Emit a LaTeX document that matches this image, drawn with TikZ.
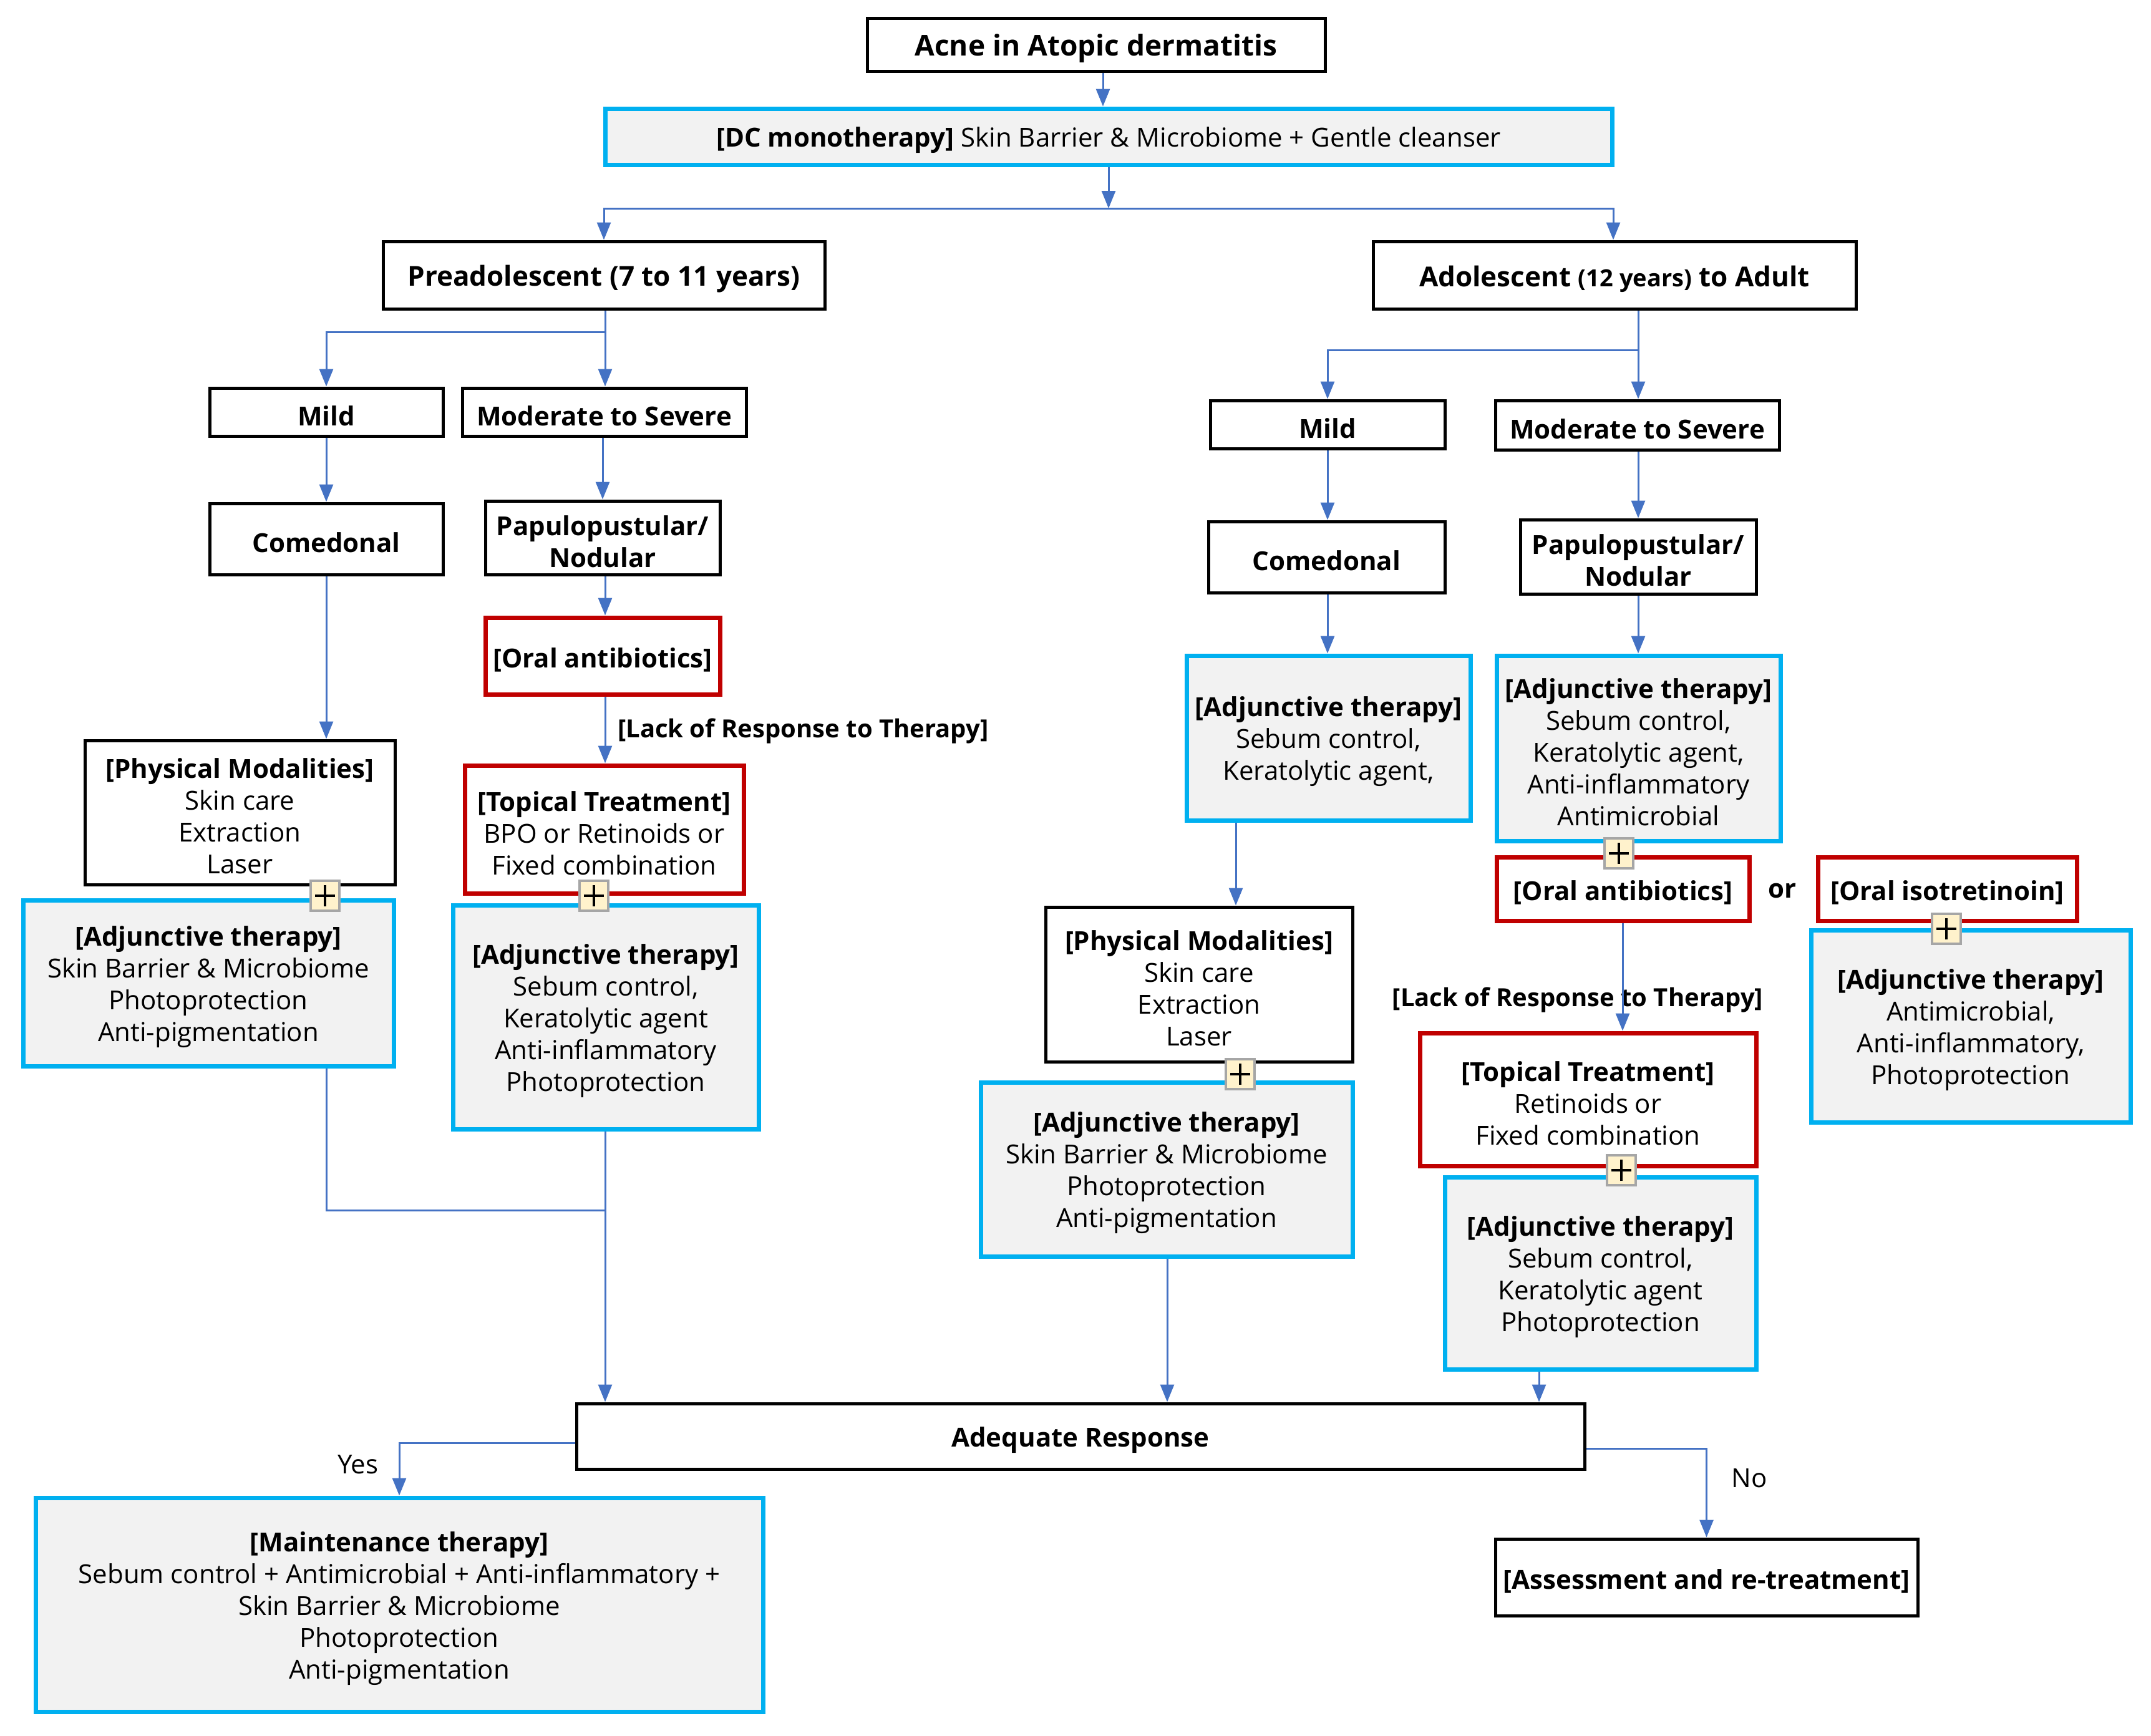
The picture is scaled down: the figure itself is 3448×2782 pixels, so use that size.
\documentclass[tikz,border=0pt]{standalone}
\usepackage{fontspec}
\setmainfont{Open Sans}
\usetikzlibrary{arrows.meta}
\definecolor{bluec}{HTML}{4472C4}
\definecolor{cyanc}{HTML}{00B0F0}
\definecolor{redc}{HTML}{C00000}
\definecolor{grayf}{HTML}{F2F2F2}
\definecolor{plusf}{HTML}{FFF2CC}
\definecolor{plusb}{HTML}{A6A6A6}
\newcommand\fsz[2]{\fontsize{#1}{#2}\selectfont}
\newcommand\mybox[7]{%
  \node[#1, minimum width={(#5)-(#3)}, minimum height={(#6)-(#4)}] (#2) at ({((#3)+(#5))/2},{((#4)+(#6))/2}) {};
  \node[#1, draw=none, fill=none, minimum width=0pt, minimum height=0pt] (#2-t) at ([yshift=-6pt]#2.center) {#7};}
\newcommand\myplus[3]{\node[plusbox] (#1) at (#2,#3) {};}
\tikzset{
 base/.style={rectangle, inner sep=0pt, align=center, font=\fsz{42}{51}},
 blk/.style={base, draw=black, line width=5pt, fill=white},
 cyb/.style={base, draw=cyanc, line width=7pt, fill=grayf},
 redb/.style={base, draw=redc, line width=7pt, fill=white},
 arr/.style={draw=bluec, line width=3pt, -{Triangle[width=22pt,length=28pt]}},
 ln/.style={draw=bluec, line width=3pt},
 lbl/.style={inner sep=0pt, font=\fsz{42}{51}},
 plusbox/.style={rectangle, draw=plusb, line width=4pt, fill=plusf, minimum width=46pt, minimum height=48pt, inner sep=0pt,
   path picture={\draw[black, line width=4.5pt] ([xshift=-16pt]path picture bounding box.center) -- ([xshift=16pt]path picture bounding box.center);
                 \draw[black, line width=4.5pt] ([yshift=-17pt]path picture bounding box.center) -- ([yshift=17pt]path picture bounding box.center);}}
}
\begin{document}
\begin{tikzpicture}[x=1pt,y=-1pt]
\useasboundingbox[fill=white] (0,0) rectangle (3448,2782);
% top
\mybox{blk,font=\fsz{46}{54}\bfseries}{title}{1390}{29}{2124}{114}{Acne in Atopic dermatitis}
\mybox{cyb}{dc}{970}{174}{2584}{264}{\textbf{[DC monotherapy]} Skin Barrier \& Microbiome + Gentle cleanser}
\mybox{blk,font=\fsz{44}{52}\bfseries}{pre}{614}{387}{1322}{495}{Preadolescent (7 to 11 years)}
\mybox{blk,font=\fsz{44}{52}\bfseries}{adol}{2201}{387}{2975}{495}{Adolescent {\fsz{38}{46}(12 years)} to Adult}
% left branch
\mybox{blk,font=\fsz{42}{51}\bfseries}{mildl}{336}{622}{710}{699}{Mild}
\mybox{blk,font=\fsz{42}{51}\bfseries}{modl}{741}{622}{1196}{699}{Moderate to Severe}
\mybox{blk,font=\fsz{42}{51}\bfseries}{coml}{336}{807}{710}{921}{Comedonal}
\mybox{blk,font=\fsz{42}{51}\bfseries}{papl}{778}{803}{1154}{921}{Papulopustular/\\Nodular}
\mybox{redb,font=\fsz{42}{51}\bfseries}{orall}{778}{990}{1154}{1113}{[Oral antibiotics]}
\mybox{redb}{topl}{745}{1227}{1192}{1432}{\textbf{[Topical Treatment]}\\BPO or Retinoids or\\Fixed combination}
\mybox{blk}{physl}{136}{1187}{633}{1418}{\textbf{[Physical Modalities]}\\Skin care\\Extraction\\Laser}
\mybox{cyb}{adjla}{37}{1443}{631}{1709}{\textbf{[Adjunctive therapy]}\\Skin Barrier \& Microbiome\\Photoprotection\\Anti-pigmentation}
\mybox{cyb}{adjlb}{726}{1451}{1216}{1810}{\textbf{[Adjunctive therapy]}\\Sebum control,\\Keratolytic agent\\Anti-inflammatory\\Photoprotection}
\myplus{pla}{521}{1436}
\myplus{plb}{952}{1436}
% right branch
\mybox{blk,font=\fsz{42}{51}\bfseries}{mildr}{1940}{642}{2316}{719}{Mild}
\mybox{blk,font=\fsz{42}{51}\bfseries}{modr}{2397}{642}{2852}{721}{Moderate to Severe}
\mybox{blk,font=\fsz{42}{51}\bfseries}{comr}{1937}{836}{2316}{950}{Comedonal}
\mybox{blk,font=\fsz{42}{51}\bfseries}{papr}{2437}{833}{2815}{952}{Papulopustular/\\Nodular}
\mybox{cyb}{adjra}{1902}{1051}{2357}{1315}{\textbf{[Adjunctive therapy]}\\Sebum control,\\Keratolytic agent,}
\mybox{cyb}{adjrb}{2399}{1051}{2854}{1348}{\textbf{[Adjunctive therapy]}\\Sebum control,\\Keratolytic agent,\\Anti-inflammatory\\Antimicrobial}
\mybox{redb,font=\fsz{42}{51}\bfseries}{oralr}{2399}{1374}{2804}{1476}{[Oral antibiotics]}
\mybox{redb,font=\fsz{42}{51}\bfseries}{iso}{2914}{1374}{3329}{1476}{[Oral isotretinoin]}
\mybox{cyb}{adjrc}{2903}{1491}{3415}{1799}{\textbf{[Adjunctive therapy]}\\Antimicrobial,\\Anti-inflammatory,\\Photoprotection}
\mybox{redb}{topr}{2276}{1656}{2815}{1869}{\textbf{[Topical Treatment]}\\Retinoids or\\Fixed combination}
\mybox{cyb}{adjrd}{2316}{1887}{2815}{2195}{\textbf{[Adjunctive therapy]}\\Sebum control,\\Keratolytic agent\\Photoprotection}
\mybox{blk}{physr}{1676}{1454}{2168}{1702}{\textbf{[Physical Modalities]}\\Skin care\\Extraction\\Laser}
\mybox{cyb}{adjre}{1572}{1735}{2168}{2014}{\textbf{[Adjunctive therapy]}\\Skin Barrier \& Microbiome\\Photoprotection\\Anti-pigmentation}
\myplus{plc}{2595}{1368}
\myplus{pld}{3120}{1489}
\myplus{ple}{1988}{1722}
\myplus{plf}{2599}{1876}
% bottom
\mybox{blk,font=\fsz{42}{51}\bfseries}{adeq}{924}{2250}{2540}{2355}{Adequate Response}
\mybox{cyb}{maint}{57}{2401}{1223}{2744}{\textbf{[Maintenance therapy]}\\Sebum control + Antimicrobial + Anti-inflammatory +\\Skin Barrier \& Microbiome\\Photoprotection\\Anti-pigmentation}
\mybox{blk,font=\fsz{42}{51}\bfseries}{assess}{2397}{2467}{3074}{2590}{[Assessment and re-treatment]}
% labels
\node[lbl,font=\fsz{40}{48}\bfseries,anchor=west] (lackl) at (990,1172) {[Lack of Response to Therapy]};
\node[lbl,font=\fsz{40}{48}\bfseries] (lackr) at (2529,1603) {[Lack of Response to Therapy]};
\node[lbl,font=\fsz{42}{51}\bfseries] (orlbl) at (2857,1428) {or};
\node[lbl] (yes) at (574,2348) {Yes};
\node[lbl] (no) at (2804,2370) {No};
% connectors
\coordinate (j1) at (1777,334);
\coordinate (j2) at (970,532);
\coordinate (j3) at (2626,561);
\coordinate (j4) at (970,1940);
\coordinate (j5) at (2736,2322);
\coordinate (j6) at (638,2313);
\draw[arr] (title.south -| 1768,0) -- (dc.north -| 1768,0);
\draw[arr] (dc.south -| j1) -- (j1);
\draw[arr] (j1) -| (pre.north);
\draw[arr] (j1) -| (adol.north -| 2586,0);
\draw[arr] (pre.south -| j2) -- (modl.north -| j2);
\draw[arr] (j2) -| (mildl.north);
\draw[arr] (adol.south -| j3) -- (modr.north -| j3);
\draw[arr] (j3) -| (mildr.north);
\draw[arr] (mildl.south) -- (coml.north);
\draw[arr] (modl.south -| 966,0) -- (papl.north -| 966,0);
\draw[arr] (papl.south -| j2) -- (orall.north -| j2);
\draw[arr] (orall.south -| j2) -- (topl.north -| j2);
\draw[arr] (coml.south) -- (coml.south |- physl.north);
\draw[ln] (coml.south |- adjla.south) |- (j4);
\draw[arr] (adjlb.south -| j4) -- (adeq.north -| j4);
\draw[arr] (mildr.south) -- (mildr.south |- comr.north);
\draw[arr] (modr.south -| j3) -- (papr.north -| j3);
\draw[arr] (comr.south -| 2128,0) -- (adjra.north -| 2128,0);
\draw[arr] (papr.south -| j3) -- (adjrb.north -| j3);
\draw[arr] (adjra.south -| 1981,0) -- (physr.north -| 1981,0);
\draw[arr] (oralr.south -| 2601,0) -- (topr.north -| 2601,0);
\draw[arr] (adjre.south -| 1871,0) -- (adeq.north -| 1871,0);
\draw[arr] (adjrd.south -| 2467,0) -- (adeq.north -| 2467,0);
\draw[arr] (adeq.west |- j6) -| (maint.north);
\draw[arr] (adeq.east |- j5) -| (assess.north);
\end{tikzpicture}
\end{document}
